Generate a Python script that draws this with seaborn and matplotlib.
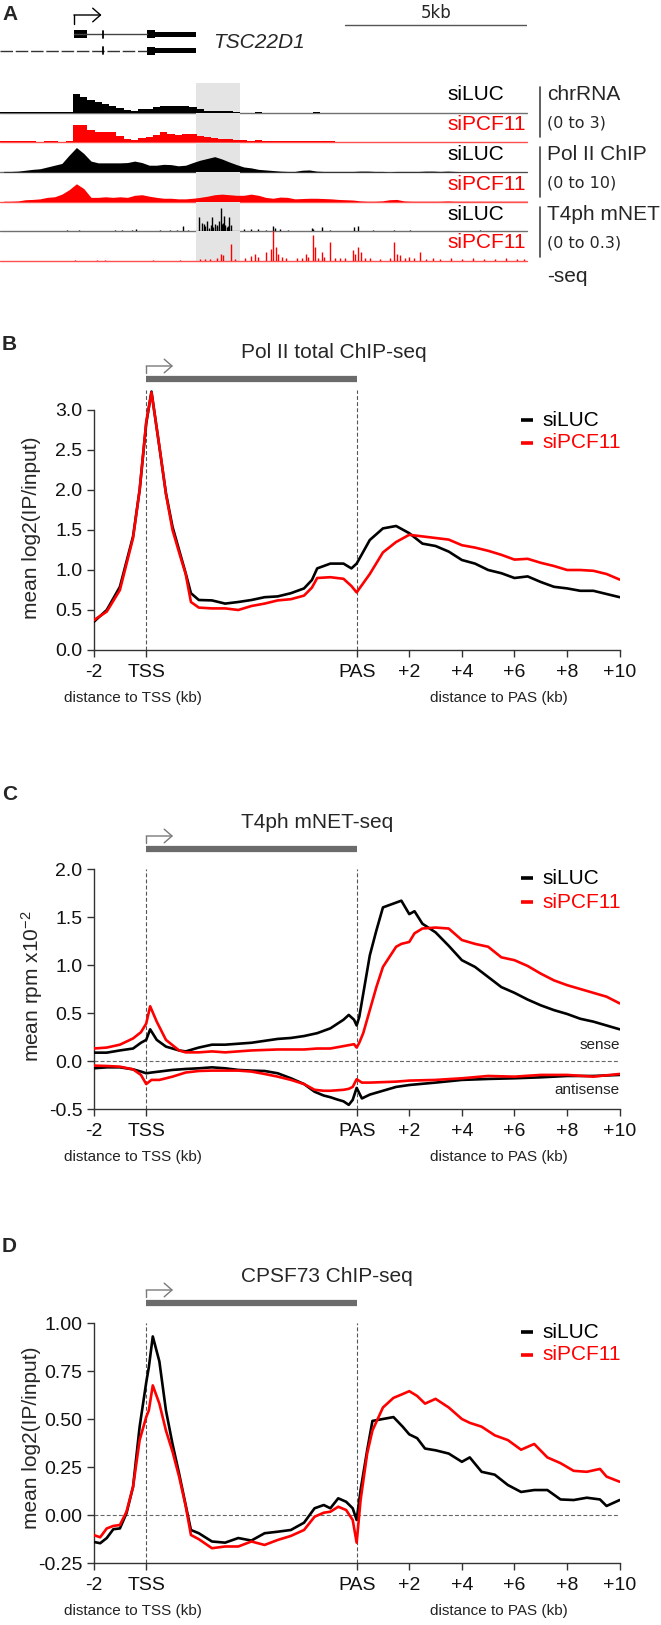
import numpy as np
import pandas as pd
import matplotlib
matplotlib.use("Agg")
import matplotlib.pyplot as plt
import matplotlib.transforms as mtransforms
from matplotlib.patches import Rectangle
import seaborn as sns

# ======================= DATA =======================
# ---- Panel A: browser tracks, 0.2 kb bins over the locus (kb) ----
BIN_KB = 0.2
chr_siLUC = [0.03,0.03,0.07,0.07,0.03,0.07,0.03,0.03,0.03,0.03,
             1.9,1.55,1.3,1.03,0.86,0.62,0.41,0.28,0.14,0.34,
             0.34,0.52,0.69,0.62,0.62,0.69,0.52,0.34,0.14,0.17,
             0.14,0.14,0.03,0,0,0.03,0,0,0,0,
             0,0,0,0.07,0,0,0,0,0,0,
             0,0,0,0,0,0,0,0,0,0,
             0,0,0,0,0,0,0,0,0,0,
             0,0,0]
chr_siPCF11 = [0.07,0.07,0.07,0.07,0.07,0.03,0.07,0.07,0.03,0.07,
               1.72,1.72,1.2,1.03,1.03,0.97,0.62,0.34,0.17,0.41,
               0.52,0.69,0.97,0.86,0.76,0.86,0.86,0.62,0.52,0.41,
               0.34,0.28,0.21,0.17,0.14,0.17,0.1,0.07,0.07,0.07,
               0.07,0.07,0.07,0.14,0.1,0.07,0.03,0.03,0.03,0.03,
               0.03,0.03,0.03,0.03,0.03,0.03,0.03,0.03,0.03,0.03,
               0.03,0.03,0.03,0.03,0.03,0.03,0.03,0.03,0.03,0.03,
               0.03,0.03,0.03]
pol_siLUC = [0.2,0.2,0.3,0.6,0.9,1.1,1.7,2.3,2.9,5.7,
             8.3,6.3,3.7,3.1,3.1,3.1,3.1,3.2,3.7,3.2,
             2.3,2.3,2.6,2.5,2.1,2.3,3.2,4.0,4.6,5.2,
             4.4,3.4,2.5,1.7,1.4,0.9,0.7,0.5,0.3,0.2,
             0.2,0.6,0.7,0.3,0.2,0.2,0.2,0.2,0.2,0.3,
             0.3,0.2,0.2,0.1,0.2,0.2,0.2,0.2,0.3,0.3,
             0.2,0.3,0.2,0.1,0.1,0.1,0.1,0.1,0.1,0.1,
             0.1,0.1,0.1]
pol_siPCF11 = [0.1,0.1,0.2,0.6,0.7,0.9,1.4,1.6,2.5,4.0,
               6.0,4.4,1.4,1.4,1.6,1.4,1.6,1.4,2.1,2.3,
               1.8,1.4,1.1,1.1,0.9,0.9,1.1,1.4,1.8,2.3,
               2.5,2.3,2.1,2.1,2.5,2.1,1.4,1.1,1.5,1.4,
               0.9,1.0,1.1,1.1,1.0,0.9,0.7,0.6,0.5,0.2,
               0.1,0.1,0.2,0.6,0.7,0.2,0.1,0.1,0.1,0.1,
               0.1,0.2,0.1,0.1,0.1,0.1,0.1,0.1,0.1,0.1,
               0.1,0.1,0.1]
net_siLUC_pos = [1.83,2.18,3.16,3.34,3.62,3.75,4.40,4.67,4.85,5.04,5.17,5.48,5.54,5.60,
                 5.64,5.68,5.75,5.79,5.83,5.86,5.91,5.95,5.97,6.03,6.06,6.09,6.12,6.16,
                 6.19,6.23,6.27,6.30,6.36,6.70,6.91,7.10,7.30,7.51,7.56,7.69,7.92,8.56,
                 8.61,8.84,9.07,9.73,9.84,10.26,10.82,11.26,13.2,13.5]
net_siLUC_val = [0.007,0.007,0.010,0.007,0.014,0.017,0.007,0.007,0.007,0.052,0.014,0.145,0.086,0.069,
                 0.05,0.097,0.034,0.06,0.138,0.04,0.069,0.05,0.062,0.097,0.234,0.07,0.086,0.155,
                 0.06,0.041,0.05,0.138,0.062,0.021,0.017,0.021,0.014,0.052,0.034,0.017,0.010,0.034,
                 0.021,0.041,0.014,0.041,0.048,0.010,0.010,0.007,0.007,0.005]
net_siPCF11_pos = [2.06,2.67,2.88,4.21,4.95,5.49,5.63,5.77,5.95,6.06,6.12,6.35,6.46,6.73,
                   6.89,7.01,7.08,7.31,7.44,7.51,7.58,7.65,7.74,7.86,8.15,8.29,8.41,8.47,
                   8.59,8.65,8.75,8.84,8.90,9.07,9.20,9.34,9.48,9.69,9.75,9.84,9.91,10.03,
                   10.16,10.44,10.71,10.83,10.90,10.99,11.13,11.25,11.37,11.54,11.7,11.9,
                   12.1,12.4,12.7,13.0,13.3,13.6,13.9,14.2,14.4]
net_siPCF11_val = [0.007,0.010,0.007,0.007,0.007,0.014,0.017,0.014,0.021,0.069,0.052,0.172,0.017,0.028,
                   0.041,0.069,0.034,0.086,0.121,0.30,0.138,0.062,0.034,0.028,0.021,0.028,0.069,0.034,
                   0.259,0.138,0.028,0.086,0.034,0.190,0.028,0.021,0.028,0.103,0.062,0.138,0.086,0.028,
                   0.021,0.017,0.028,0.190,0.069,0.052,0.028,0.034,0.021,0.086,0.02,0.03,
                   0.02,0.03,0.02,0.03,0.02,0.02,0.03,0.02,0.02]

# gene model (kb)
tss_kb = 2.03
t1_cds = [(2.03, 2.39), (4.03, 4.26)]
t2_cds = [(4.03, 4.26)]
utr_3 = (4.26, 5.38)
exon_tick_kb = 2.84
shade_kb = (5.38, 6.59)
scalebar_kb = (9.48, 14.48)
LOCUS_KB = 14.48

track_labels = ["siLUC", "siPCF11", "siLUC", "siPCF11", "siLUC", "siPCF11"]
assay_labels = ["chrRNA", "(0 to 3)", "Pol II ChIP", "(0 to 10)", "T4ph mNET", "(0 to 0.3)", "-seq"]

# ---- metagene x ticks (TSS=0, PAS=8, +10 kb = 18) ----
xtick_pos = [-2, 0, 8, 10, 12, 14, 16, 18]
xtick_lab = ["-2", "TSS", "PAS", "+2", "+4", "+6", "+8", "+10"]

# ---- Panel B: Pol II total ChIP-seq ----
B_pos = [-2,-1.5,-1,-0.5,-0.25,0,0.2,0.5,0.75,1,1.25,1.5,1.7,2,2.5,3,3.5,4,4.5,5,5.5,6,6.3,6.5,7,
         7.5,7.8,8,8.5,9,9.5,10,10.5,11,11.5,12,12.5,13,13.5,14,14.5,15,15.5,16,16.5,17,17.5,18]
B_siLUC = [0.35,0.50,0.79,1.42,2.0,2.83,3.23,2.54,1.96,1.54,1.25,0.96,0.71,0.625,0.62,0.58,0.60,0.625,
           0.66,0.67,0.71,0.77,0.875,1.02,1.08,1.08,1.02,1.08,1.375,1.52,1.55,1.46,1.33,1.30,1.23,
           1.125,1.08,1.0,0.96,0.90,0.92,0.85,0.79,0.77,0.74,0.74,0.70,0.66]
B_siPCF11 = [0.37,0.48,0.75,1.40,2.0,2.85,3.22,2.55,1.95,1.5,1.22,0.95,0.60,0.53,0.52,0.52,0.50,0.55,
             0.58,0.62,0.635,0.68,0.78,0.90,0.91,0.89,0.80,0.72,0.95,1.22,1.35,1.44,1.42,1.40,1.38,
             1.31,1.28,1.24,1.19,1.13,1.14,1.09,1.05,1.00,1.00,0.99,0.95,0.88]

# ---- Panel C: T4ph mNET-seq (x10^-2 rpm) ----
C_pos = [-2,-1.5,-1,-0.5,-0.2,0,0.15,0.4,0.75,1.25,1.5,2,2.5,3,3.5,4,4.5,5,5.5,6,6.5,7,7.5,7.7,7.9,
         8,8.1,8.25,8.5,8.75,9,9.5,9.7,10,10.2,10.5,11,11.5,12,12.5,13,13.5,14,14.5,15,15.5,16,16.5,
         17,17.5,18]
C_sense_siLUC = [0.087,0.087,0.11,0.13,0.19,0.22,0.33,0.22,0.15,0.11,0.10,0.14,0.17,0.17,0.18,0.19,
                 0.21,0.23,0.24,0.26,0.29,0.34,0.43,0.48,0.43,0.37,0.46,0.70,1.10,1.36,1.60,1.65,1.67,
                 1.53,1.56,1.43,1.34,1.20,1.05,0.98,0.875,0.77,0.71,0.64,0.58,0.53,0.49,0.44,0.41,0.37,0.33]
C_sense_siPCF11 = [0.13,0.14,0.17,0.235,0.30,0.39,0.57,0.41,0.22,0.11,0.09,0.09,0.10,0.09,0.10,0.11,
                   0.115,0.12,0.12,0.12,0.13,0.13,0.155,0.165,0.175,0.14,0.19,0.29,0.53,0.77,0.98,1.19,
                   1.22,1.24,1.33,1.38,1.39,1.38,1.26,1.22,1.19,1.08,1.05,0.99,0.91,0.84,0.79,0.75,0.71,
                   0.67,0.60]
C_anti_pos = [-2,-1.5,-1,-0.5,-0.2,0,0.2,0.5,1,1.5,2,2.5,3,3.5,4,4.5,5,5.5,6,6.4,6.75,7,7.25,7.5,7.7,
              7.85,8,8.2,8.5,9,9.5,10,11,12,13,14,15,16,17,18]
C_anti_siLUC = [-0.076,-0.066,-0.066,-0.087,-0.11,-0.128,-0.12,-0.11,-0.093,-0.083,-0.076,-0.066,-0.076,
                -0.093,-0.10,-0.104,-0.128,-0.18,-0.24,-0.32,-0.36,-0.377,-0.40,-0.42,-0.457,-0.405,-0.28,
                -0.39,-0.35,-0.31,-0.27,-0.25,-0.225,-0.197,-0.187,-0.18,-0.17,-0.156,-0.156,-0.145]
C_anti_siPCF11 = [-0.048,-0.052,-0.059,-0.087,-0.145,-0.24,-0.197,-0.197,-0.163,-0.12,-0.104,-0.10,-0.10,
                  -0.10,-0.11,-0.135,-0.163,-0.197,-0.24,-0.30,-0.31,-0.31,-0.305,-0.30,-0.29,-0.27,-0.19,
                  -0.225,-0.225,-0.22,-0.215,-0.204,-0.197,-0.18,-0.156,-0.163,-0.145,-0.145,-0.163,-0.135]

# ---- Panel D: CPSF73 ChIP-seq ----
D_pos = [-2,-1.75,-1.5,-1.25,-1,-0.75,-0.5,-0.25,0,0.1,0.25,0.5,0.75,1,1.25,1.5,1.7,2,2.5,3,3.5,4,
         4.5,5,5.5,6,6.4,6.75,7,7.3,7.6,7.85,8,8.15,8.4,8.6,9,9.4,9.75,10,10.3,10.6,11,11.5,12,12.3,
         12.75,13.25,13.75,14.25,14.75,15.25,15.75,16.25,16.75,17.25,17.5,18]
D_siLUC = [-0.14,-0.147,-0.12,-0.074,-0.07,0.009,0.147,0.46,0.69,0.77,0.93,0.80,0.545,0.37,0.216,0.052,
           -0.078,-0.095,-0.138,-0.144,-0.12,-0.133,-0.095,-0.087,-0.078,-0.04,0.035,0.052,0.035,0.087,
           0.069,0.035,-0.026,0.13,0.337,0.49,0.50,0.51,0.46,0.42,0.40,0.346,0.337,0.32,0.277,0.30,
           0.225,0.21,0.156,0.12,0.13,0.13,0.081,0.078,0.09,0.081,0.047,0.078]
D_siPCF11 = [-0.104,-0.116,-0.07,-0.057,-0.052,0.017,0.147,0.39,0.51,0.545,0.675,0.58,0.44,0.33,0.20,
             0.047,-0.104,-0.126,-0.173,-0.164,-0.164,-0.138,-0.156,-0.13,-0.109,-0.078,-0.009,0.012,
             0.017,0.043,0.026,-0.026,-0.144,0.078,0.32,0.44,0.56,0.61,0.63,0.645,0.62,0.58,0.605,0.56,
             0.50,0.48,0.46,0.415,0.39,0.34,0.37,0.30,0.27,0.23,0.225,0.24,0.20,0.173]

# ======================= STYLE / LAYOUT =======================
RED = "#ff0000"
BLK = "#000000"
palette = {"siLUC": BLK, "siPCF11": RED}

sns.set_theme(style="white")
plt.rcParams["font.family"] = ["Liberation Sans", "DejaVu Sans"]
plt.rcParams["mathtext.default"] = "regular"

W, H = 661, 1625
fig = plt.figure(figsize=(W / 100, H / 100), dpi=100)
fig.patch.set_facecolor("white")


def add_ax(x0, y0, x1, y1):
    return fig.add_axes([x0 / W, 1 - y1 / H, (x1 - x0) / W, (y1 - y0) / H])


def ftext(x, y, s, **kw):
    fig.text(x / W, 1 - y / H, s, **kw)


ov = add_ax(0, 0, W, H)
ov.set_xlim(0, W)
ov.set_ylim(H, 0)
ov.axis("off")

# ======================= PANEL A =======================
ftext(2, 15, "A", fontsize=15, fontweight="bold", ha="left", va="center")

gax = add_ax(0, 0, 527, 62)
gax.set_xlim(0, LOCUS_KB)
gax.set_ylim(62, 0)
gax.axis("off")
# transcript 1
gax.plot([tss_kb, t1_cds[1][0]], [34.3, 34.3], color="#444444", lw=1)
for s, e in t1_cds:
    gax.add_patch(Rectangle((s, 30.3), e - s, 8, color="black", lw=0))
gax.add_patch(Rectangle((utr_3[0], 32.0), utr_3[1] - utr_3[0], 4.6, color="black", lw=0))
gax.plot([exon_tick_kb, exon_tick_kb], [31, 38], color="black", lw=1.3)
# transcript 2
gax.plot([0, t2_cds[0][0]], [50.7, 50.7], color="#333333", lw=1, linestyle=(0, (9, 2)))
for s, e in t2_cds:
    gax.add_patch(Rectangle((s, 46.7), e - s, 8, color="black", lw=0))
gax.add_patch(Rectangle((utr_3[0], 48.4), utr_3[1] - utr_3[0], 4.6, color="black", lw=0))
gax.plot([exon_tick_kb, exon_tick_kb], [47.2, 54.2], color="black", lw=1.3)
# TSS arrow
gax.plot([tss_kb, tss_kb], [24, 15], color="black", lw=1)
gax.annotate("", xy=(tss_kb + 0.76, 15), xytext=(tss_kb, 15),
             arrowprops=dict(arrowstyle="->,head_length=0.4,head_width=0.35", lw=1,
                             color="black", shrinkA=0, shrinkB=0, mutation_scale=14))
gax.text(5.85, 43, "TSC22D1", fontsize=15, style="italic", ha="left", va="center")
# scale bar
gax.plot(list(scalebar_kb), [25, 25], color="#555555", lw=1)
gax.text(np.mean(scalebar_kb), 13, "5kb", fontsize=12, family="DejaVu Sans",
         ha="center", va="center")

baselines = [112.5, 142, 172, 201.5, 231, 260.5]
TH = 29.5
tracks = [
    ("step", chr_siLUC, 3, BLK),
    ("step", chr_siPCF11, 3, RED),
    ("smooth", pol_siLUC, 10, BLK),
    ("smooth", pol_siPCF11, 10, RED),
    ("spike", (net_siLUC_pos, net_siLUC_val), 0.3, BLK),
    ("spike", (net_siPCF11_pos, net_siPCF11_val), 0.3, RED),
]
for (kind, data, scale, col), b in zip(tracks, baselines):
    tax = add_ax(0, b - TH, 527, b)
    tax.set_xlim(0, LOCUS_KB)
    tax.set_ylim(0, scale)
    tax.axis("off")
    tax.axvspan(shade_kb[0], shade_kb[1], color="#e4e4e4", lw=0, zorder=0)
    base_col = "#707070" if col == BLK else "#ff5050"
    tax.axhline(0, color=base_col, lw=1.0, clip_on=False, zorder=1)
    if kind == "step":
        vals = np.asarray(data, dtype=float)
        edges = np.arange(len(vals) + 1) * BIN_KB
        tax.fill_between(edges, np.append(vals, vals[-1]), step="post", color=col, lw=0, zorder=2)
    elif kind == "smooth":
        vals = np.asarray(data, dtype=float)
        centers = (np.arange(len(vals)) + 0.5) * BIN_KB
        tax.fill_between(centers, vals, color=col, lw=0, zorder=2)
    else:
        pos, val = data
        tax.vlines(pos, 0, val, color=col, lw=1.0, zorder=2)

label_y = [94, 124, 154, 184, 214, 243]
for lab, y in zip(track_labels, label_y):
    ftext(447, y, lab, fontsize=15, color=(RED if lab == "siPCF11" else BLK),
          ha="left", va="center")
assay_y = [94, 123, 154, 183, 214, 243, 277]
for lab, y in zip(assay_labels, assay_y):
    if lab.startswith("("):
        ftext(547, y, lab, fontsize=11.5, family="DejaVu Sans", ha="left", va="center")
    else:
        ftext(547, y, lab, fontsize=15, ha="left", va="center")
for y0, y1 in [(87, 137), (147, 197), (207, 257)]:
    ov.plot([540, 540], [y0, y1], color="#444444", lw=1.2)

# ======================= METAGENE PANELS =======================
AX_X0, AX_X1 = 93.6, 619.7


def long_df(pos, series):
    frames = []
    for name, vals in series.items():
        frames.append(pd.DataFrame({"pos": pos, "value": vals, "condition": name}))
    return pd.concat(frames, ignore_index=True)


def metagene(letter, letter_y, title, top_px, bot_px, ylim, yticks, fmt, ylabel, ylabel_frac,
             bar_px, legend_px, spine_top=None, zero_line=False):
    ax = add_ax(AX_X0, top_px, AX_X1, bot_px)
    hpx = bot_px - top_px

    def yf(y):
        return (bot_px - y) / hpx

    ax.set_xlim(-2, 18)
    ax.set_ylim(*ylim)
    ax.set_facecolor("white")
    for sp in ["top", "right"]:
        ax.spines[sp].set_visible(False)
    for sp in ["left", "bottom"]:
        ax.spines[sp].set_color("#333333")
        ax.spines[sp].set_linewidth(1.0)
    if spine_top is not None:
        ax.spines["left"].set_bounds(ylim[0], spine_top)
    ax.set_xticks(xtick_pos)
    ax.set_xticklabels(xtick_lab)
    ax.set_yticks(yticks)
    ax.set_yticklabels([fmt.format(v) for v in yticks])
    ax.tick_params(axis="both", bottom=True, left=True, direction="out", length=5, width=1,
                   color="#333333", labelsize=14, labelcolor="#111111")
    ax.tick_params(axis="x", pad=5)
    ax.tick_params(axis="y", pad=3)
    ax.set_xlabel("")
    ax.set_ylabel("")

    dash = (0, (3.5, 2))
    ax.axvline(0, color="#555555", lw=0.8, linestyle=dash, zorder=1)
    ax.axvline(8, color="#555555", lw=0.8, linestyle=dash, zorder=1)
    if zero_line:
        ax.axhline(0, color="#666666", lw=0.8, linestyle=dash, zorder=1)

    xt = mtransforms.blended_transform_factory(ax.transData, ax.transAxes)
    # gene body bar, TSS arrow, title
    ax.plot([0, 8], [yf(bar_px)] * 2, transform=xt, color="#6b6b6b", lw=4.5,
            solid_capstyle="butt", clip_on=False)
    ax.plot([0, 0], [yf(bar_px - 6), yf(bar_px - 13)], transform=xt, color="#7a7a7a",
            lw=1, clip_on=False)
    ax.annotate("", xy=(1.02, yf(bar_px - 13)), xytext=(0, yf(bar_px - 13)),
                xycoords=xt, textcoords=xt, annotation_clip=False,
                arrowprops=dict(arrowstyle="->,head_length=0.4,head_width=0.35", lw=1,
                                color="#7a7a7a", shrinkA=0, shrinkB=0, mutation_scale=14))
    ax.text(3.6, yf(bar_px - 26), title, transform=xt, fontsize=15, ha="left", va="center",
            clip_on=False)

    # legend
    for name, ypx in zip(["siLUC", "siPCF11"], legend_px):
        ax.plot([14.24, 14.71], [yf(ypx)] * 2, transform=xt, color=palette[name], lw=2.6,
                solid_capstyle="butt", clip_on=False)
        ax.text(15.05, yf(ypx), name, transform=xt, color=palette[name], fontsize=15,
                ha="left", va="center")

    # distance labels
    ax.text(-0.52, yf(bot_px + 48), "distance to TSS (kb)", transform=xt, fontsize=11,
            ha="center", va="center", color="#222222")
    ax.text(13.4, yf(bot_px + 48), "distance to PAS (kb)", transform=xt, fontsize=11,
            ha="center", va="center", color="#222222")

    # y label
    ax.text((31.6 - AX_X0) / (AX_X1 - AX_X0), ylabel_frac, ylabel, transform=ax.transAxes,
            rotation=90, fontsize=15, ha="center", va="center")
    ftext(2, letter_y, letter, fontsize=15, fontweight="bold", ha="left", va="center")
    return ax


# Panel B
axB = metagene("B", 344, "Pol II total ChIP-seq", 390, 650, (0, 3.25),
               [0.0, 0.5, 1.0, 1.5, 2.0, 2.5, 3.0], "{:.1f}", "mean log2(IP/input)", 0.471,
               379, [420, 443], spine_top=3.0)
dfB = long_df(B_pos, {"siLUC": B_siLUC, "siPCF11": B_siPCF11})
sns.lineplot(data=dfB, x="pos", y="value", hue="condition", palette=palette, legend=False,
             ax=axB, lw=1.9, errorbar=None, zorder=3)
axB.set_xlabel("")
axB.set_ylabel("")

# Panel C
axC = metagene("C", 795, "T4ph mNET-seq", 869, 1109, (-0.5, 2.0),
               [-0.5, 0.0, 0.5, 1.0, 1.5, 2.0], "{:.1f}", "mean rpm x10$^{-2}$", 0.51,
               849, [878, 902], zero_line=True)
dfC_s = long_df(C_pos, {"siLUC": C_sense_siLUC, "siPCF11": C_sense_siPCF11})
dfC_a = long_df(C_anti_pos, {"siLUC": C_anti_siLUC, "siPCF11": C_anti_siPCF11})
sns.lineplot(data=dfC_s, x="pos", y="value", hue="condition", palette=palette, legend=False,
             ax=axC, lw=1.9, errorbar=None, zorder=3)
sns.lineplot(data=dfC_a, x="pos", y="value", hue="condition", palette=palette, legend=False,
             ax=axC, lw=1.9, errorbar=None, zorder=3)
axC.set_xlabel("")
axC.set_ylabel("")
axC.text(18, 0.17, "sense", fontsize=11, ha="right", va="center", color="#222222")
axC.text(18, -0.30, "antisense", fontsize=11, ha="right", va="center", color="#222222")

# Panel D
axD = metagene("D", 1247, "CPSF73 ChIP-seq", 1323, 1563, (-0.25, 1.0),
               [-0.25, 0.0, 0.25, 0.5, 0.75, 1.0], "{:.2f}", "mean log2(IP/input)", 0.52,
               1303, [1332, 1355], zero_line=True)
dfD = long_df(D_pos, {"siLUC": D_siLUC, "siPCF11": D_siPCF11})
sns.lineplot(data=dfD, x="pos", y="value", hue="condition", palette=palette, legend=False,
             ax=axD, lw=1.9, errorbar=None, zorder=3)
axD.set_xlabel("")
axD.set_ylabel("")

fig.savefig("out.png", dpi=100, facecolor="white")
